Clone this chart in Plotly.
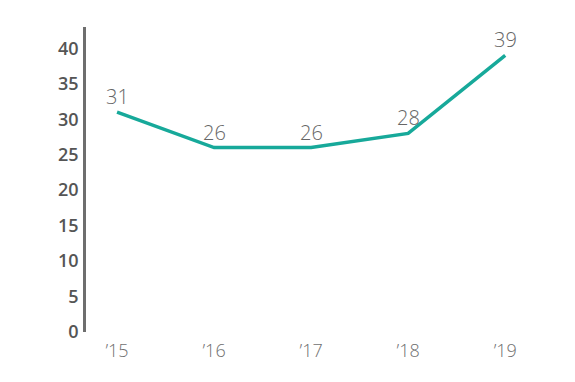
import plotly.graph_objects as go

years = ["’15", "’16", "’17", "’18", "’19"]
values = [31, 26, 26, 28, 39]
y_ticks = [0, 5, 10, 15, 20, 25, 30, 35, 40]

xs = list(range(len(years)))

fig = go.Figure()
fig.add_trace(go.Scatter(
    x=xs, y=values,
    mode="lines",
    line=dict(color="#17a99a", width=3.5),
    hoverinfo="skip",
))

for x, v in zip(xs, values):
    fig.add_annotation(
        x=x, y=v, text=str(v), showarrow=False,
        yanchor="bottom", xanchor="center", yshift=0,
        font=dict(family="Open Sans", size=20, color="#666666", weight=300),
    )

fig.update_layout(
    width=575, height=382,
    margin=dict(l=86, r=30, t=27, b=50),
    paper_bgcolor="white", plot_bgcolor="white",
    showlegend=False,
    xaxis=dict(
        range=[-0.32, 4.41],
        tickmode="array", tickvals=xs, ticktext=years,
        showgrid=False, zeroline=False, showline=False,
        tickfont=dict(family="Open Sans", size=18, color="#707070", weight=300),
        ticks="outside", ticklen=2, tickcolor="rgba(0,0,0,0)",
    ),
    yaxis=dict(
        range=[0, 43],
        tickmode="array", tickvals=y_ticks, ticktext=[str(t) for t in y_ticks],
        showgrid=False, zeroline=False,
        showline=True, linecolor="#6e6e6e", linewidth=2.5,
        tickfont=dict(family="Open Sans", size=18, color="#555555", weight=600),
        ticks="outside", ticklen=1, tickcolor="rgba(0,0,0,0)",
    ),
)

fig.write_html("out.html")
